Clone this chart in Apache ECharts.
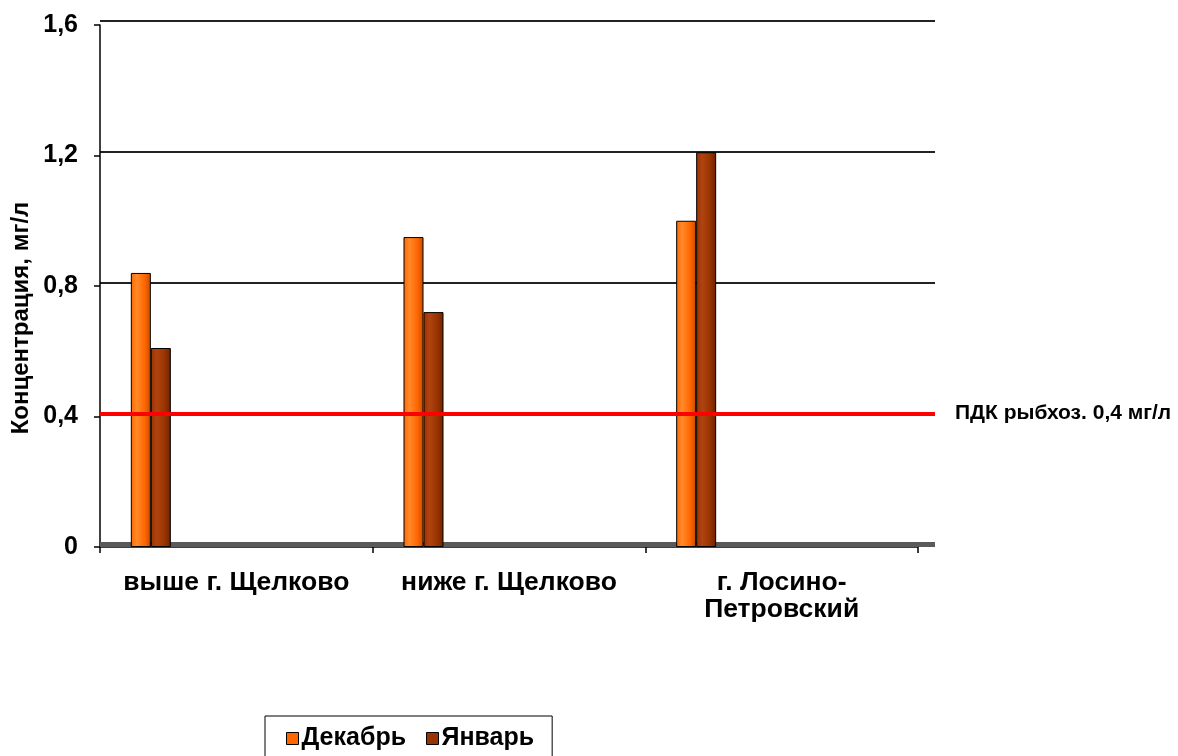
<!DOCTYPE html>
<html>
<head>
<meta charset="utf-8">
<script src="https://cdn.jsdelivr.net/npm/echarts@6/dist/echarts.min.js"></script>
<style>
  html, body { margin: 0; padding: 0; background: #fff; }
  #chart { width: 1178px; height: 756px; }
</style>
</head>
<body>
<div id="chart"></div>
<script>
const categories = ['выше г. Щелково', 'ниже г. Щелково', 'г. Лосино-\nПетровский']
const december = [0.84, 0.95, 1.0]
const january = [0.61, 0.72, 1.21]
const yTicks = [0, 0.4, 0.8, 1.2, 1.6]
const pdkValue = 0.4
const pdkLabel = 'ПДК рыбхоз. 0,4 мг/л'

const font = 'Arial, "Liberation Sans", sans-serif'

function cylinder(dark, mid, light) {
  return new echarts.graphic.LinearGradient(0, 0, 1, 0, [
    { offset: 0, color: mid },
    { offset: 0.3, color: light },
    { offset: 0.7, color: mid },
    { offset: 1, color: dark }
  ])
}

const chart = echarts.init(document.getElementById('chart'))
chart.setOption({
  animation: false,
  backgroundColor: '#fff',
  grid: [
    { left: 100, right: 260, top: 25, bottom: 209 },
    // back wall of the 3d plot, shifted up/right
    { left: 100, right: 243, top: 21, bottom: 212 }
  ],
  xAxis: [{
    type: 'category',
    gridIndex: 0,
    data: categories,
    axisLine: { lineStyle: { color: '#000', width: 1.5 } },
    axisTick: { show: true, interval: 0, length: 6, lineStyle: { color: '#000', width: 1.5 } },
    axisLabel: {
      interval: 0,
      margin: 22,
      color: '#000',
      fontFamily: font,
      fontWeight: 'bold',
      fontSize: 26.5,
      lineHeight: 27
    }
  }, {
    type: 'category',
    gridIndex: 1,
    data: categories,
    axisLine: { lineStyle: { color: '#5a5a5a', width: 5, cap: 'butt' } },
    axisTick: { show: false },
    axisLabel: { show: false }
  }],
  yAxis: [{
    type: 'value',
    gridIndex: 0,
    min: yTicks[0],
    max: yTicks[yTicks.length - 1],
    interval: 0.4,
    axisLine: { show: true, lineStyle: { color: '#000', width: 1.5 } },
    axisTick: { show: true, length: 6, lineStyle: { color: '#000', width: 1.5 } },
    splitLine: { show: false },
    axisLabel: {
      margin: 22,
      color: '#000',
      fontFamily: font,
      fontWeight: 'bold',
      fontSize: 25,
      formatter: v => String(Math.round(v * 10) / 10).replace('.', ',')
    }
  }, {
    type: 'value',
    gridIndex: 1,
    min: yTicks[0],
    max: yTicks[yTicks.length - 1],
    interval: 0.4,
    axisLine: { show: false },
    axisTick: { show: false },
    axisLabel: { show: false },
    splitLine: { lineStyle: { color: '#222', width: 2 } }
  }],
  legend: {
    data: [
      { name: 'Декабрь', itemStyle: { color: '#ff6600', borderColor: '#000', borderWidth: 1 } },
      { name: 'Январь', itemStyle: { color: '#993300', borderColor: '#000', borderWidth: 1 } }
    ],
    left: 265,
    top: 716,
    padding: [10, 18, 10, 21],
    borderColor: '#000',
    borderWidth: 1,
    itemWidth: 12,
    itemHeight: 12,
    itemGap: 20,
    icon: 'rect',
    textStyle: { color: '#000', fontFamily: font, fontWeight: 'bold', fontSize: 25, padding: [0, 0, 0, -2] }
  },
  graphic: [{
    type: 'text',
    x: 21,
    y: 318,
    rotation: Math.PI / 2,
    style: {
      text: 'Концентрация, мг/л',
      fill: '#000',
      font: 'bold 24px ' + font,
      textAlign: 'center',
      textVerticalAlign: 'middle'
    }
  }],
  series: [{
    name: 'Декабрь',
    type: 'bar',
    xAxisIndex: 0,
    yAxisIndex: 0,
    data: december,
    barWidth: 20,
    barGap: 0,
    itemStyle: { color: cylinder('#c44c00', '#ff6600', '#ff8a2a'), borderColor: '#000', borderWidth: 1 }
  }, {
    name: 'Январь',
    type: 'bar',
    xAxisIndex: 0,
    yAxisIndex: 0,
    data: january,
    barWidth: 20,
    barGap: 0,
    itemStyle: { color: cylinder('#6b2200', '#993300', '#b04410'), borderColor: '#000', borderWidth: 1 }
  }, {
    // empty spacer that pushes the bar pair to the left of each category
    name: 'spacer',
    type: 'bar',
    xAxisIndex: 0,
    yAxisIndex: 0,
    data: categories.map(() => '-'),
    barWidth: 171,
    barGap: 0
  }, {
    name: 'pdk',
    type: 'line',
    xAxisIndex: 1,
    yAxisIndex: 1,
    data: categories.map(() => '-'),
    markLine: {
      silent: true,
      symbol: 'none',
      lineStyle: { color: '#ff0000', width: 4, type: 'solid' },
      label: {
        position: 'end',
        distance: 20,
        formatter: pdkLabel,
        color: '#000',
        fontFamily: font,
        fontWeight: 'bold',
        fontSize: 21
      },
      data: [{ yAxis: pdkValue }]
    }
  }]
})
</script>
</body>
</html>
